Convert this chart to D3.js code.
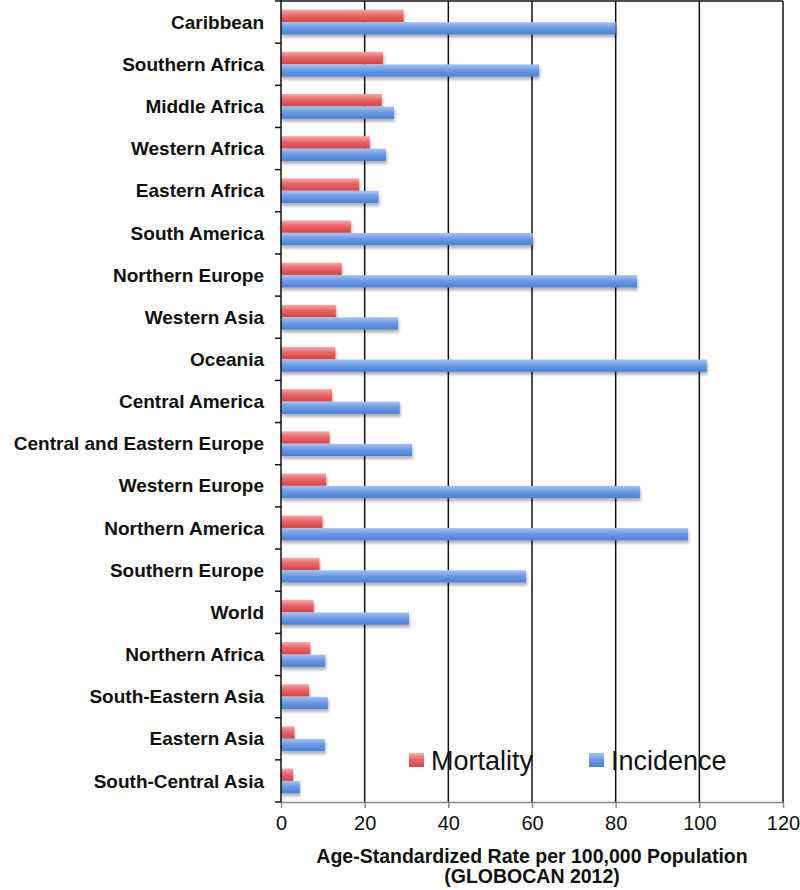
<!DOCTYPE html>
<html>
<head>
<meta charset="utf-8">
<script src="https://cdn.jsdelivr.net/npm/d3@7"></script>
<style>
  body { margin: 0; background: #fff; }
  svg { font-family: "Liberation Sans", Arial, sans-serif; }
</style>
</head>
<body>
<svg id="chart"></svg>
<script>
// values
var categories = ["Caribbean", "Southern Africa", "Middle Africa", "Western Africa", "Eastern Africa",
  "South America", "Northern Europe", "Western Asia", "Oceania", "Central America",
  "Central and Eastern Europe", "Western Europe", "Northern America", "Southern Europe", "World",
  "Northern Africa", "South-Eastern Asia", "Eastern Asia", "South-Central Asia"];
var mortality = [29.3, 24.4, 24.1, 21.2, 18.7, 16.7, 14.5, 13.1, 13.0, 12.2,
  11.6, 10.8, 9.9, 9.2, 7.8, 7.0, 6.7, 3.2, 2.9];
var incidence = [80.0, 61.7, 27.0, 25.1, 23.3, 60.2, 85.1, 28.0, 101.8, 28.4,
  31.3, 85.8, 97.3, 58.6, 30.6, 10.6, 11.2, 10.5, 4.5];
var seriesNames = ["Mortality", "Incidence"];
var xTicks = [0, 20, 40, 60, 80, 100, 120];

var width = 800,
    height = 890;
var plotLeft = 281, plotRight = 783, plotTop = 1, plotBottom = 802;

var svg = d3.select("#chart")
    .attr("width", width)
    .attr("height", height);

var defs = svg.append("defs");

function gradient(id, stops) {
  var g = defs.append("linearGradient")
      .attr("id", id)
      .attr("x1", 0).attr("y1", 0).attr("x2", 0).attr("y2", 1);
  stops.forEach(function(s) {
    g.append("stop").attr("offset", s[0]).attr("stop-color", s[1]);
  });
}
gradient("gradRed", [[0, "#f7a9a9"], [0.45, "#ea6666"], [1, "#d44444"]]);
gradient("gradBlue", [[0, "#a3c3f3"], [0.45, "#6d9ce6"], [1, "#4a7fd3"]]);

defs.append("filter")
    .attr("id", "shadow")
    .attr("x", "-5%").attr("y", "-30%").attr("width", "110%").attr("height", "180%")
  .append("feDropShadow")
    .attr("dx", 1).attr("dy", 3)
    .attr("stdDeviation", 1.6)
    .attr("flood-color", "#000")
    .attr("flood-opacity", 0.3);

var fills = { "Mortality": "url(#gradRed)", "Incidence": "url(#gradBlue)" };

var x = d3.scaleLinear()
    .domain([0, 120])
    .range([plotLeft, plotRight]);

var y = d3.scaleBand()
    .domain(categories)
    .range([plotTop, plotBottom])
    .paddingInner(0.4)
    .paddingOuter(0.2);

var ySub = d3.scaleBand()
    .domain(seriesNames)
    .range([0, y.bandwidth()])
    .padding(0.02);

// gridlines
svg.append("g")
    .selectAll("line")
    .data(xTicks.slice(1))
    .enter()
    .append("line")
    .attr("x1", function(d) { return x(d); })
    .attr("x2", function(d) { return x(d); })
    .attr("y1", plotTop)
    .attr("y2", plotBottom)
    .attr("stroke", "#111")
    .attr("stroke-width", 1.5);

// top border
svg.append("line")
    .attr("x1", plotLeft).attr("x2", plotRight)
    .attr("y1", plotTop).attr("y2", plotTop)
    .attr("stroke", "#111")
    .attr("stroke-width", 1.5);

// bars
var groups = svg.append("g")
    .selectAll("g")
    .data(categories)
    .enter()
    .append("g")
    .attr("transform", function(d) { return "translate(0," + y(d) + ")"; });

groups.selectAll("rect")
    .data(function(d, i) {
      return [{ key: "Mortality", value: mortality[i] }, { key: "Incidence", value: incidence[i] }];
    })
    .enter()
    .append("rect")
    .attr("x", x(0))
    .attr("y", function(d) { return ySub(d.key); })
    .attr("width", function(d) { return x(d.value) - x(0); })
    .attr("height", ySub.bandwidth())
    .attr("fill", function(d) { return fills[d.key]; })
    .attr("filter", "url(#shadow)");

// bottom axis
var xAxis = svg.append("g")
    .attr("transform", "translate(0," + plotBottom + ")")
    .call(d3.axisBottom(x).tickValues(xTicks).tickSize(6).tickSizeOuter(0));
xAxis.select(".domain").attr("stroke", "#888").attr("stroke-width", 1.5);
xAxis.selectAll(".tick line").attr("stroke", "#888").attr("stroke-width", 1.5);
xAxis.selectAll(".tick text")
    .attr("y", 14)
    .attr("font-size", "20px")
    .attr("font-family", "'Liberation Sans', Arial, sans-serif")
    .attr("fill", "#111");

// left axis
svg.append("line")
    .attr("x1", plotLeft).attr("x2", plotLeft)
    .attr("y1", plotTop - 1).attr("y2", plotBottom)
    .attr("stroke", "#111")
    .attr("stroke-width", 1.5);

var step = y.step();
var boundaries = categories.map(function(c) { return y(c) - step * y.paddingInner() / 2; });
boundaries.push(plotBottom);
svg.append("g")
    .selectAll("line")
    .data(boundaries)
    .enter()
    .append("line")
    .attr("x1", plotLeft - 6).attr("x2", plotLeft)
    .attr("y1", function(d) { return d; })
    .attr("y2", function(d) { return d; })
    .attr("stroke", "#111")
    .attr("stroke-width", 1.5);

svg.append("g")
    .selectAll("text")
    .data(categories)
    .enter()
    .append("text")
    .attr("x", plotLeft - 17)
    .attr("y", function(d) { return y(d) + y.bandwidth() / 2; })
    .attr("dy", "0.35em")
    .attr("text-anchor", "end")
    .attr("font-size", "19px")
    .attr("font-weight", "bold")
    .attr("fill", "#111")
    .text(function(d) { return d; });

// axis title
var title = svg.append("text")
    .attr("text-anchor", "middle")
    .attr("font-size", "19.5px")
    .attr("font-weight", "bold")
    .attr("fill", "#111");
title.append("tspan").attr("x", (plotLeft + plotRight) / 2).attr("y", 863)
    .text("Age-Standardized Rate per 100,000 Population");
title.append("tspan").attr("x", (plotLeft + plotRight) / 2).attr("y", 883)
    .text("(GLOBOCAN 2012)");

// legend
var legendX = [409, 589];
var legend = svg.append("g")
    .selectAll("g")
    .data(seriesNames)
    .enter()
    .append("g")
    .attr("transform", function(d, i) { return "translate(" + legendX[i] + ",753)"; });

legend.append("rect")
    .attr("width", 15)
    .attr("height", 14)
    .attr("fill", function(d) { return fills[d]; });

legend.append("text")
    .attr("x", 22)
    .attr("y", 17)
    .attr("font-size", "27px")
    .attr("fill", "#111")
    .text(function(d) { return d; });
</script>
</body>
</html>
